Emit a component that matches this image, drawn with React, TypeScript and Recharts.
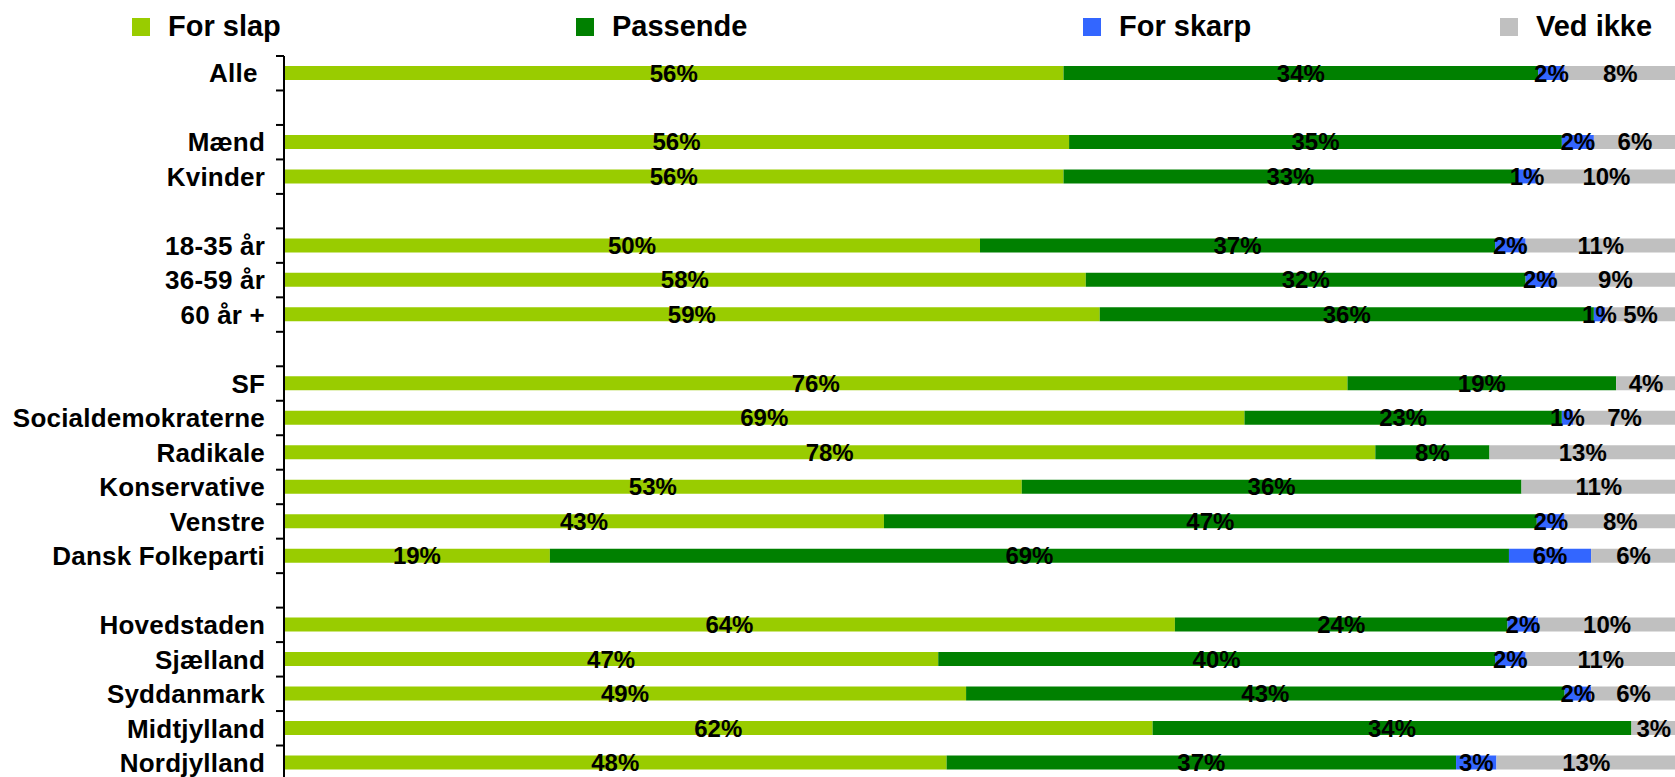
import { BarChart, Bar, XAxis, YAxis, LabelList } from "recharts";

// -------------------------------------
// DATA (blank strings = spacer rows)
// -------------------------------------
const CATEGORIES = [
  "Alle ",
  "",
  "Mænd",
  "Kvinder",
  "",
  "18-35 år",
  "36-59 år",
  "60 år +",
  "",
  "SF",
  "Socialdemokraterne",
  "Radikale",
  "Konservative",
  "Venstre",
  "Dansk Folkeparti",
  "",
  "Hovedstaden",
  "Sjælland",
  "Syddanmark",
  "Midtjylland",
  "Nordjylland",
];

const FOR_SLAP = [56.0, null, 56.4, 56.0, null, 50.0, 57.6, 58.6, null, 76.4, 69.0, 78.4, 53.0, 43.1, 19.1, null, 64.0, 47.0, 49.0, 62.4, 47.6];
const PASSENDE = [34.1, null, 35.4, 32.6, null, 37.0, 31.6, 35.5, null, 19.3, 22.8, 8.2, 35.9, 46.9, 68.9, null, 23.9, 40.0, 43.0, 34.4, 36.6];
const FOR_SKARP = [1.9, null, 2.3, 1.4, null, 2.2, 2.1, 0.8, null, 0, 0.8, 0, 0, 2.0, 5.9, null, 2.2, 2.2, 1.9, 0, 2.9];
const VED_IKKE = [8.0, null, 5.9, 10.0, null, 10.8, 8.7, 5.1, null, 4.3, 7.4, 13.4, 11.1, 8.0, 6.1, null, 9.9, 10.8, 6.1, 3.2, 12.9];

const SERIES = [
  { key: "forSlap", name: "For slap", color: "#99CC00", values: FOR_SLAP },
  { key: "passende", name: "Passende", color: "#008000", values: PASSENDE },
  { key: "forSkarp", name: "For skarp", color: "#3366FF", values: FOR_SKARP },
  { key: "vedIkke", name: "Ved ikke", color: "#C0C0C0", values: VED_IKKE },
];

const data = CATEGORIES.map((name, i) => {
  const row: Record<string, any> = { id: `r${i}`, name };
  SERIES.forEach((s) => {
    row[s.key] = s.values[i];
  });
  return row;
});

// -------------------------------------
// LAYOUT
// -------------------------------------
const FONT = "'Liberation Sans', Arial, Helvetica, sans-serif";
const CHART_W = 1680;
const CHART_H = 780;
const MARGIN = { top: 56, right: 4, bottom: 0, left: 0 };
const AXIS_W = 284;
const BAND = (CHART_H - MARGIN.top - MARGIN.bottom) / CATEGORIES.length;
const LEGEND_X = [132, 576, 1083, 1500];

const fmt = (v: any) => (v == null || v === 0 ? "" : `${Math.round(v)}%`);

function CategoryTick(props: any) {
  const { y, index } = props;
  const axisX = MARGIN.left + AXIS_W;
  const top = y - BAND / 2;
  return (
    <g>
      <line x1={axisX - 8} x2={axisX} y1={top} y2={top} stroke="#000" strokeWidth={2} />
      <text
        x={axisX - 19}
        y={y}
        dy="0.355em"
        textAnchor="end"
        fontFamily={FONT}
        fontSize={26}
        fontWeight="bold"
        letterSpacing={0.2}
        fill="#000"
        style={{ whiteSpace: "pre" }}
      >
        {CATEGORIES[index]}
      </text>
    </g>
  );
}

function LegendBar() {
  return (
    <svg width={1675} height={50} style={{ position: "absolute", left: 0, top: 0 }}>
      {SERIES.map((s, i) => (
        <g key={s.key}>
          <rect x={LEGEND_X[i]} y={18} width={18} height={18} fill={s.color} />
          <text
            x={LEGEND_X[i] + 36}
            y={36}
            fontFamily={FONT}
            fontSize={29}
            fontWeight="bold"
            fill="#000"
          >
            {s.name}
          </text>
        </g>
      ))}
    </svg>
  );
}

export default function App() {
  return (
    <div
      style={{
        position: "absolute",
        left: 0,
        top: 0,
        width: 1675,
        height: 777,
        overflow: "hidden",
        background: "#fff",
      }}
    >
      <BarChart
        width={CHART_W}
        height={CHART_H}
        data={data}
        layout="vertical"
        margin={MARGIN}
      >
        <XAxis type="number" domain={[0, 100]} hide allowDataOverflow />
        <YAxis
          type="category"
          dataKey="id"
          width={AXIS_W}
          axisLine={{ stroke: "#000", strokeWidth: 2 }}
          tickLine={false}
          tick={<CategoryTick />}
          interval={0}
        />
        {SERIES.map((s) => (
          <Bar
            key={s.key}
            dataKey={s.key}
            name={s.name}
            stackId="a"
            fill={s.color}
            barSize={14}
            isAnimationActive={false}
          >
            <LabelList
              dataKey={s.key}
              position="center"
              formatter={fmt}
              fill="#000"
              fontSize={24}
              fontWeight="bold"
              fontFamily={FONT}
            />
          </Bar>
        ))}
      </BarChart>
      <LegendBar />
    </div>
  );
}
